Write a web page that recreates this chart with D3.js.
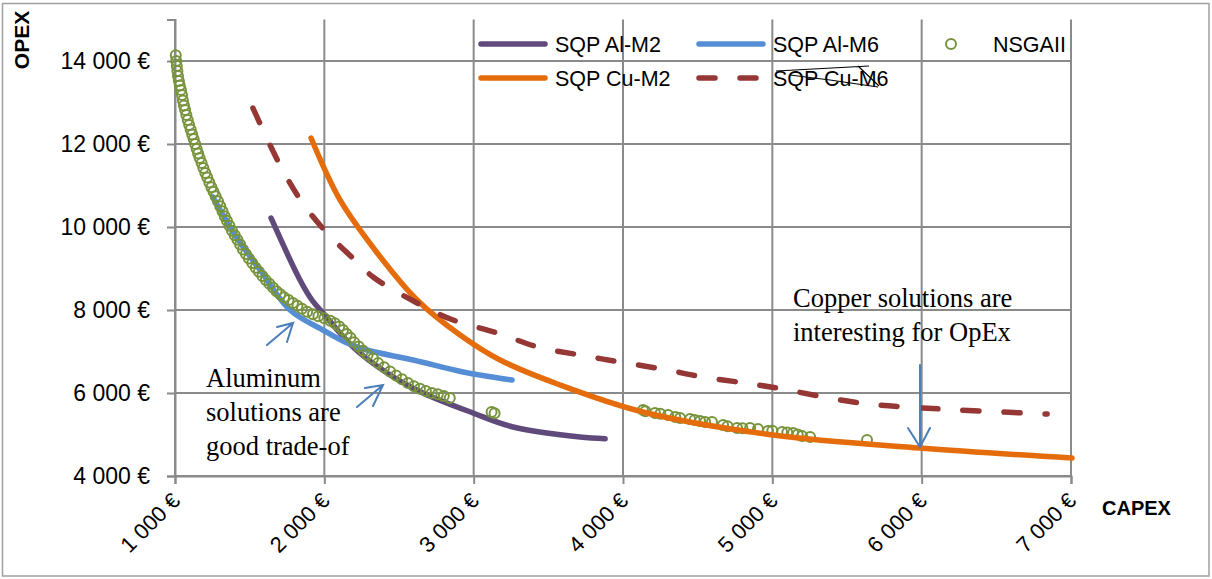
<!DOCTYPE html>
<html><head><meta charset="utf-8">
<script src="https://cdn.jsdelivr.net/npm/d3@7"></script>
<style>
html,body{margin:0;padding:0;background:#fff;}
svg{display:block;}
</style></head>
<body>
<svg id="c" width="1212" height="579"></svg>
<script>
// ---------- data ----------
const xTicks = [1000, 2000, 3000, 4000, 5000, 6000, 7000];
const yTicks = [4000, 6000, 8000, 10000, 12000, 14000];

// [CAPEX, OPEX]
const sqpAlM2 = [[1643,10217],[1837,8723],[1917,8241],[1991,7928],[2192,7108],[2420,6482],[2661,6000],[2996,5518],[3264,5181],[3712,4940],[3880,4900]];
const sqpAlM6 = [[1254,10723],[1402,9807],[1569,8964],[1770,8000],[1991,7518],[2152,7205],[2286,7036],[2594,6795],[2929,6506],[3257,6313]];
const sqpCuM2 = [[1911,12145],[2105,10651],[2339,9446],[2621,8241],[2909,7398],[3177,6795],[3579,6193],[4134,5542],[5005,4988],[5989,4675],[7007,4434]];
const sqpCuM6 = [[1522,12867],[1703,11494],[1850,10602],[2018,9855],[2226,9133],[2326,8795],[2621,8169],[2862,7759],[3157,7446],[3431,7108],[3712,6916],[3980,6747],[4261,6578],[4536,6386],[4817,6241],[5031,6120],[5588,5759],[6137,5614],[6840,5494]];
const nsgaII = [[1005,14140],[1008,14000],[1012,13880],[1016,13760],[1020,13640],[1026,13520],[1032,13410],[1040,13300],[1047,13180],[1053,13050],[1060,12930],[1068,12820],[1076,12700],[1085,12580],[1095,12460],[1105,12350],[1115,12230],[1125,12120],[1135,12000],[1145,11880],[1155,11770],[1165,11660],[1178,11540],[1190,11420],[1203,11300],[1216,11190],[1230,11070],[1244,10960],[1258,10850],[1272,10740],[1288,10620],[1303,10500],[1318,10380],[1333,10260],[1348,10150],[1365,10030],[1382,9910],[1400,9800],[1418,9690],[1436,9580],[1455,9460],[1475,9350],[1495,9240],[1517,9130],[1540,9020],[1562,8920],[1585,8820],[1608,8720],[1632,8630],[1656,8540],[1680,8450],[1705,8380],[1730,8310],[1760,8240],[1790,8170],[1820,8100],[1850,8030],[1885,7960],[1924,7900],[1960,7850],[2000,7800],[2040,7740],[2070,7680],[2100,7600],[2125,7520],[2150,7420],[2175,7330],[2200,7220],[2230,7120],[2260,7020],[2290,6920],[2326,6830],[2360,6720],[2400,6620],[2440,6520],[2480,6420],[2520,6330],[2560,6240],[2600,6160],[2640,6100],[2680,6050],[2720,6000],[2760,5970],[2800,5930],[2840,5880],[3120,5540],[3140,5510],
[4134,5590],[4150,5560],[4214,5518],[4250,5500],[4302,5470],[4350,5420],[4382,5398],[4449,5373],[4480,5350],[4516,5325],[4550,5300],[4596,5301],[4670,5229],[4700,5200],[4764,5157],[4800,5150],[4851,5157],[4904,5133],[4971,5084],[5000,5090],[5065,5060],[5100,5050],[5139,5036],[5170,5000],[5199,4964],[5253,4940],[5634,4867]];

const legendItems = [
  {name:"SQP Al-M2", key:"alM2", col:0, row:0},
  {name:"SQP Al-M6", key:"alM6", col:1, row:0},
  {name:"NSGAII",    key:"nsga", col:2, row:0},
  {name:"SQP Cu-M2", key:"cuM2", col:0, row:1},
  {name:"SQP Cu-M6", key:"cuM6", col:1, row:1}
];
const noteCopper = ["Copper solutions are", "interesting for OpEx"];
const noteAlu = ["Aluminum", "solutions are", "good trade-of"];

// ---------- styles ----------
const colors = {alM2:"#604A7B", alM6:"#558ED5", cuM2:"#E46C0A", cuM6:"#953735", nsga:"#77933C"};
const gridCol = "#8a8a8a";
const arrowCol = "#4A7EBB";
const sans = "Liberation Sans, Arial, sans-serif";

const W = 1212, H = 579;
const m = {left:175, right:141, top:19.5, bottom:103};
const svg = d3.select("#c");

const x = d3.scaleLinear().domain([1000,7000]).range([m.left, W-m.right]);
const y = d3.scaleLinear().domain([4000,15000]).range([H-m.bottom, m.top]);

// outer border
svg.append("rect").attr("x",2.5).attr("y",3.5).attr("width",W-5.5).attr("height",H-6.5)
  .attr("fill","none").attr("stroke","#a0a0a0").attr("stroke-width",1.5);

// gridlines
const g = svg.append("g");
g.selectAll(".vg").data(xTicks).join("line")
  .attr("x1",d=>x(d)).attr("x2",d=>x(d)).attr("y1",y(15000)).attr("y2",y(4000))
  .attr("stroke",gridCol).attr("stroke-width",2);
g.selectAll(".hg").data(yTicks).join("line")
  .attr("x1",x(1000)).attr("x2",x(7000)).attr("y1",d=>y(d)).attr("y2",d=>y(d))
  .attr("stroke",gridCol).attr("stroke-width",2);

// axes
const fmt = v => d3.format(",")(v).replace(/,/g," ") + " €";
const yAxis = d3.axisLeft(y).tickValues(yTicks).tickSize(8).tickFormat(fmt);
const yg = svg.append("g").attr("transform",`translate(${m.left},0)`).call(yAxis);
yg.select(".domain").attr("stroke",gridCol).attr("stroke-width",2);
yg.selectAll(".tick line").attr("stroke",gridCol).attr("stroke-width",2);
yg.selectAll(".tick text").attr("x",-25).attr("font-family",sans)
  .attr("font-size",23).attr("fill","#000");

const xAxis = d3.axisBottom(x).tickValues(xTicks).tickSize(8).tickFormat(fmt);
const xg = svg.append("g").attr("transform",`translate(0,${y(4000)})`).call(xAxis);
xg.select(".domain").attr("stroke",gridCol).attr("stroke-width",2);
xg.selectAll(".tick line").attr("stroke",gridCol).attr("stroke-width",2);
xg.selectAll(".tick text")
  .attr("font-family",sans).attr("font-size",22).attr("fill","#000")
  .attr("text-anchor","end").attr("y",0).attr("dy",0)
  .attr("transform","translate(6,26) rotate(-45)");

// axis titles
svg.append("text").attr("transform","translate(29,40) rotate(-90)").attr("text-anchor","middle")
  .attr("font-family",sans).attr("font-weight","bold").attr("font-size",21)
  .text("OPEX");
svg.append("text").attr("x",1102).attr("y",515)
  .attr("font-family",sans).attr("font-weight","bold").attr("font-size",20)
  .text("CAPEX");

// series
const line = d3.line().x(d=>x(d[0])).y(d=>y(d[1])).curve(d3.curveCatmullRom.alpha(0.5));
const plot = svg.append("g");
function addLine(data,col,dash){
  const p = plot.append("path").datum(data).attr("d",line).attr("fill","none")
    .attr("stroke",col).attr("stroke-width",5.5).attr("stroke-linecap","round").attr("stroke-linejoin","round");
  if(dash) p.attr("stroke-dasharray",dash);
}
addLine(sqpAlM2, colors.alM2);
addLine(sqpAlM6, colors.alM6);
plot.append("g").selectAll("circle").data(nsgaII).join("circle")
  .attr("cx",d=>x(d[0])).attr("cy",d=>y(d[1])).attr("r",5)
  .attr("fill","none").attr("stroke",colors.nsga).attr("stroke-width",2);
addLine(sqpCuM2, colors.cuM2);
addLine(sqpCuM6, colors.cuM6, "16 25");

// legend
const lg = svg.append("g");
const colX = [478, 696, 0];
const rowY = [44, 78];
legendItems.forEach(it=>{
  const yy = rowY[it.row];
  if(it.key==="nsga"){
    lg.append("circle").attr("cx",951).attr("cy",yy).attr("r",5).attr("fill","none")
      .attr("stroke",colors.nsga).attr("stroke-width",2);
    lg.append("text").attr("x",993).attr("y",yy).attr("dy","0.36em")
      .attr("font-family",sans).attr("font-size",21.5).text(it.name);
  } else {
    const x0 = colX[it.col];
    const l = lg.append("line").attr("x1",x0+3).attr("x2",x0+67).attr("y1",yy).attr("y2",yy)
      .attr("stroke",colors[it.key]).attr("stroke-width",5.5).attr("stroke-linecap","round");
    if(it.key==="cuM6") l.attr("stroke-dasharray","16 25");
    lg.append("text").attr("x",x0+77).attr("y",yy).attr("dy","0.36em")
      .attr("font-family",sans).attr("font-size",21.5).text(it.name);
  }
});
// hand-drawn strike over "SQP Cu-M6"
lg.append("path").attr("d","M776,71 L869,66 M790,75 L830,80 L878,87 M858,66 L879,86")
  .attr("fill","none").attr("stroke","#000").attr("stroke-width",1.2);

// annotations
const serif = "Liberation Serif, Times New Roman, serif";
svg.append("text").attr("font-family",serif).attr("font-size",26.5).attr("fill","#000")
  .selectAll("tspan").data(noteCopper).join("tspan")
  .attr("x",793).attr("y",(d,i)=>307+i*34).text(d=>d);
svg.append("text").attr("font-family",serif).attr("font-size",26.5).attr("fill","#000")
  .selectAll("tspan").data(noteAlu).join("tspan")
  .attr("x",206).attr("y",(d,i)=>387+i*34).text(d=>d);

// arrows
const arr = svg.append("g").attr("stroke",arrowCol).attr("stroke-width",2).attr("fill","none").attr("stroke-linecap","round");
arr.append("path").attr("d","M267,345 L293,323 M277,327 L293,323 L287,342");
arr.append("path").attr("d","M357,407 L383,385 M365,388 L383,385 L373,406");
arr.append("path").attr("d","M920,365 L920,447 M908,428 L920,447 L930,428");
</script>
</body></html>
